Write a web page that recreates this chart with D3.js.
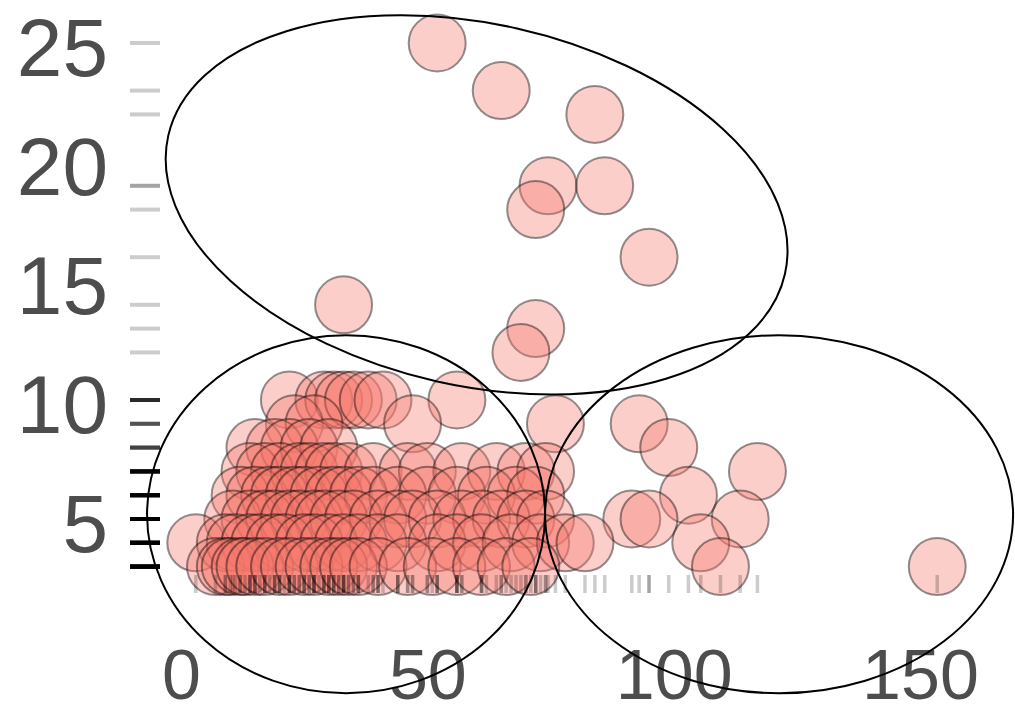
<!DOCTYPE html>
<html>
<head>
<meta charset="utf-8">
<script src="https://cdn.jsdelivr.net/npm/d3@7"></script>
<style>
  html, body { margin: 0; padding: 0; background: #fff; }
  svg text { font-family: "Liberation Sans", Arial, sans-serif; fill: #4d4d4d; }
</style>
</head>
<body>
<div id="chart"></div>
<script>
// points, one array per y level (y is read as whole numbers off the rug)
var yLevels = [25, 23, 22, 19, 18, 16, 14, 13, 12, 10, 9, 8, 7, 6, 5, 4, 3];
var xByLevel = [
  [52],
  [65],
  [84],
  [74.5, 86],
  [72],
  [95],
  [33],
  [72],
  [69],
  [22, 29, 31, 33, 35, 38, 41, 56],
  [23, 27, 47, 76, 93],
  [15, 19, 22, 26, 30, 99],
  [14, 17, 20, 24, 26, 29, 31, 34, 39, 46, 50, 57, 64, 70, 74, 117],
  [12, 15, 18, 20, 23, 25, 28, 31, 33, 36, 39, 44, 50, 56, 62, 68, 72, 103],
  [10.5, 14, 17, 19, 22, 24, 27, 29, 32, 35, 40, 44, 47, 52, 57, 61, 65, 70, 74, 91.5, 95, 113.5],
  [3, 9, 11, 14, 16, 19, 21, 25, 27, 30, 33, 36, 40, 44, 52, 56, 61, 67, 73, 78, 82, 105.5],
  [7, 9, 10, 12, 13, 15, 17, 20, 22, 25, 27, 30, 32, 34, 36, 40, 46, 51, 56, 61, 66, 71, 109.5, 153.5]
];
var xTicks = [0, 50, 100, 150];
var yTicks = [5, 10, 15, 20, 25];

// hand drawn ellipses (centre in data units)
var ellipseCx = [60, 33.5, 121.4];
var ellipseCy = [18.2, 5.2, 5.2];

var width = 1015, height = 714;

var points = [];
yLevels.forEach(function(y, i) {
  xByLevel[i].forEach(function(x) { points.push({x: x, y: y}); });
});

var svg = d3.select("#chart").append("svg")
  .attr("width", width)
  .attr("height", height);

var x = d3.scaleLinear().domain([0, 150]).range([181, 920]);
var y = d3.scaleLinear().domain([0, 25]).range([638, 43]);

// points
svg.append("g").selectAll("circle")
  .data(points)
  .enter().append("circle")
  .attr("cx", d => x(d.x))
  .attr("cy", d => y(d.y))
  .attr("r", 28.5)
  .style("fill", "#F8766D")
  .style("fill-opacity", 0.36)
  .style("stroke", "#000")
  .style("stroke-opacity", 0.42)
  .style("stroke-width", 2);

// rugs
svg.append("g").selectAll("line")
  .data(points)
  .enter().append("line")
  .attr("x1", d => x(d.x)).attr("x2", d => x(d.x))
  .attr("y1", 575).attr("y2", 593)
  .style("stroke", "#000")
  .style("stroke-opacity", 0.2)
  .style("stroke-width", 3.5);

svg.append("g").selectAll("line")
  .data(points)
  .enter().append("line")
  .attr("x1", 130).attr("x2", 160)
  .attr("y1", d => y(d.y)).attr("y2", d => y(d.y))
  .style("stroke", "#000")
  .style("stroke-opacity", 0.2)
  .style("stroke-width", 4);

// tick labels, no axis line
var yAxis = d3.axisLeft(y).tickValues(yTicks).tickSize(0).tickPadding(0);
var gy = svg.append("g").attr("transform", "translate(108,3)").call(yAxis);
gy.select(".domain").remove();
gy.selectAll("text").style("font-size", "82px").attr("dy", "0.36em").attr("fill", null);

var xAxis = d3.axisBottom(x).tickValues(xTicks).tickSize(0).tickPadding(0);
var gx = svg.append("g").attr("transform", "translate(0,652)").call(xAxis);
gx.select(".domain").remove();
gx.selectAll("text")
  .style("font-size", "70px")
  .attr("y", 47).attr("dy", 0)
  .attr("fill", null);

// ellipses
var ellipseRx = [316, 199, 234], ellipseRy = [181, 179, 179], ellipseRot = [12.6, 0, 0];
svg.append("g").selectAll("ellipse")
  .data(ellipseCx)
  .enter().append("ellipse")
  .attr("transform", (d, i) => `translate(${x(d)},${y(ellipseCy[i])}) rotate(${ellipseRot[i]})`)
  .attr("rx", (d, i) => ellipseRx[i])
  .attr("ry", (d, i) => ellipseRy[i])
  .style("fill", "none")
  .style("stroke", "#000")
  .style("stroke-width", 2);
</script>
</body>
</html>
